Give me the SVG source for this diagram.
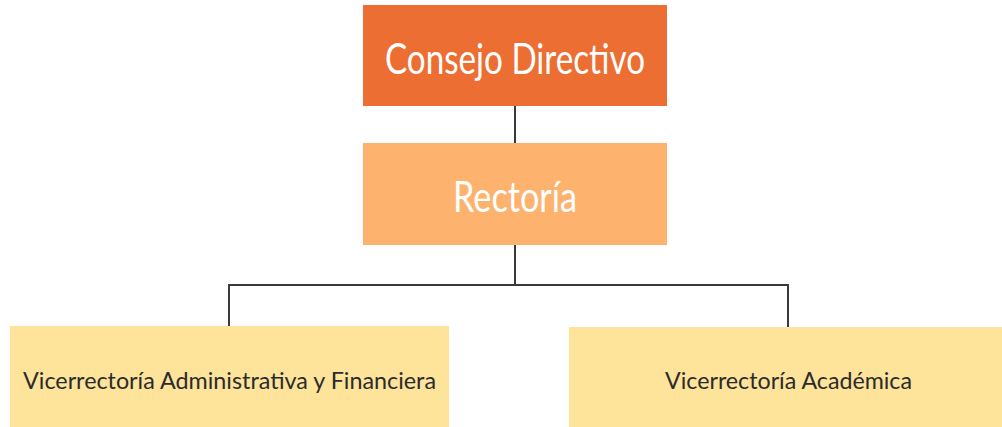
<svg xmlns="http://www.w3.org/2000/svg" width="1002" height="427" viewBox="0 0 1002 427">
<style>
.lbl{font-family:"Lato","Open Sans","Liberation Sans",sans-serif;text-anchor:middle;font-weight:400}
.big{font-size:43px;fill:#ffffff}
.small{font-size:24px;fill:#2b2b2b}
.conn{stroke:#3a3a3a;stroke-width:2;fill:none}
</style>
<rect width="1002" height="427" fill="#ffffff"/>
<g id="connectors">
<path class="conn" d="M515 106V143"/>
<path class="conn" d="M515 245V285M229 326V285H788V327"/>
</g>
<g id="consejo">
<rect x="363" y="5" width="304" height="101" fill="#EC6E32"/>
<text class="lbl big" x="515" y="74" textLength="260" lengthAdjust="spacingAndGlyphs">Consejo Directivo</text>
</g>
<g id="rectoria">
<rect x="363" y="143" width="304" height="102" fill="#FDB36E"/>
<text class="lbl big" x="515" y="212" textLength="124" lengthAdjust="spacingAndGlyphs">Rectoría</text>
</g>
<g id="vadmin">
<rect x="10" y="326" width="439" height="101" fill="#FEE39B"/>
<text class="lbl small" x="229.5" y="389" textLength="413" lengthAdjust="spacingAndGlyphs">Vicerrectoría Administrativa y Financiera</text>
</g>
<g id="vacad">
<rect x="569" y="327" width="433" height="100" fill="#FEE39B"/>
<text class="lbl small" x="788.5" y="389" textLength="247" lengthAdjust="spacingAndGlyphs">Vicerrectoría Académica</text>
</g>
</svg>
